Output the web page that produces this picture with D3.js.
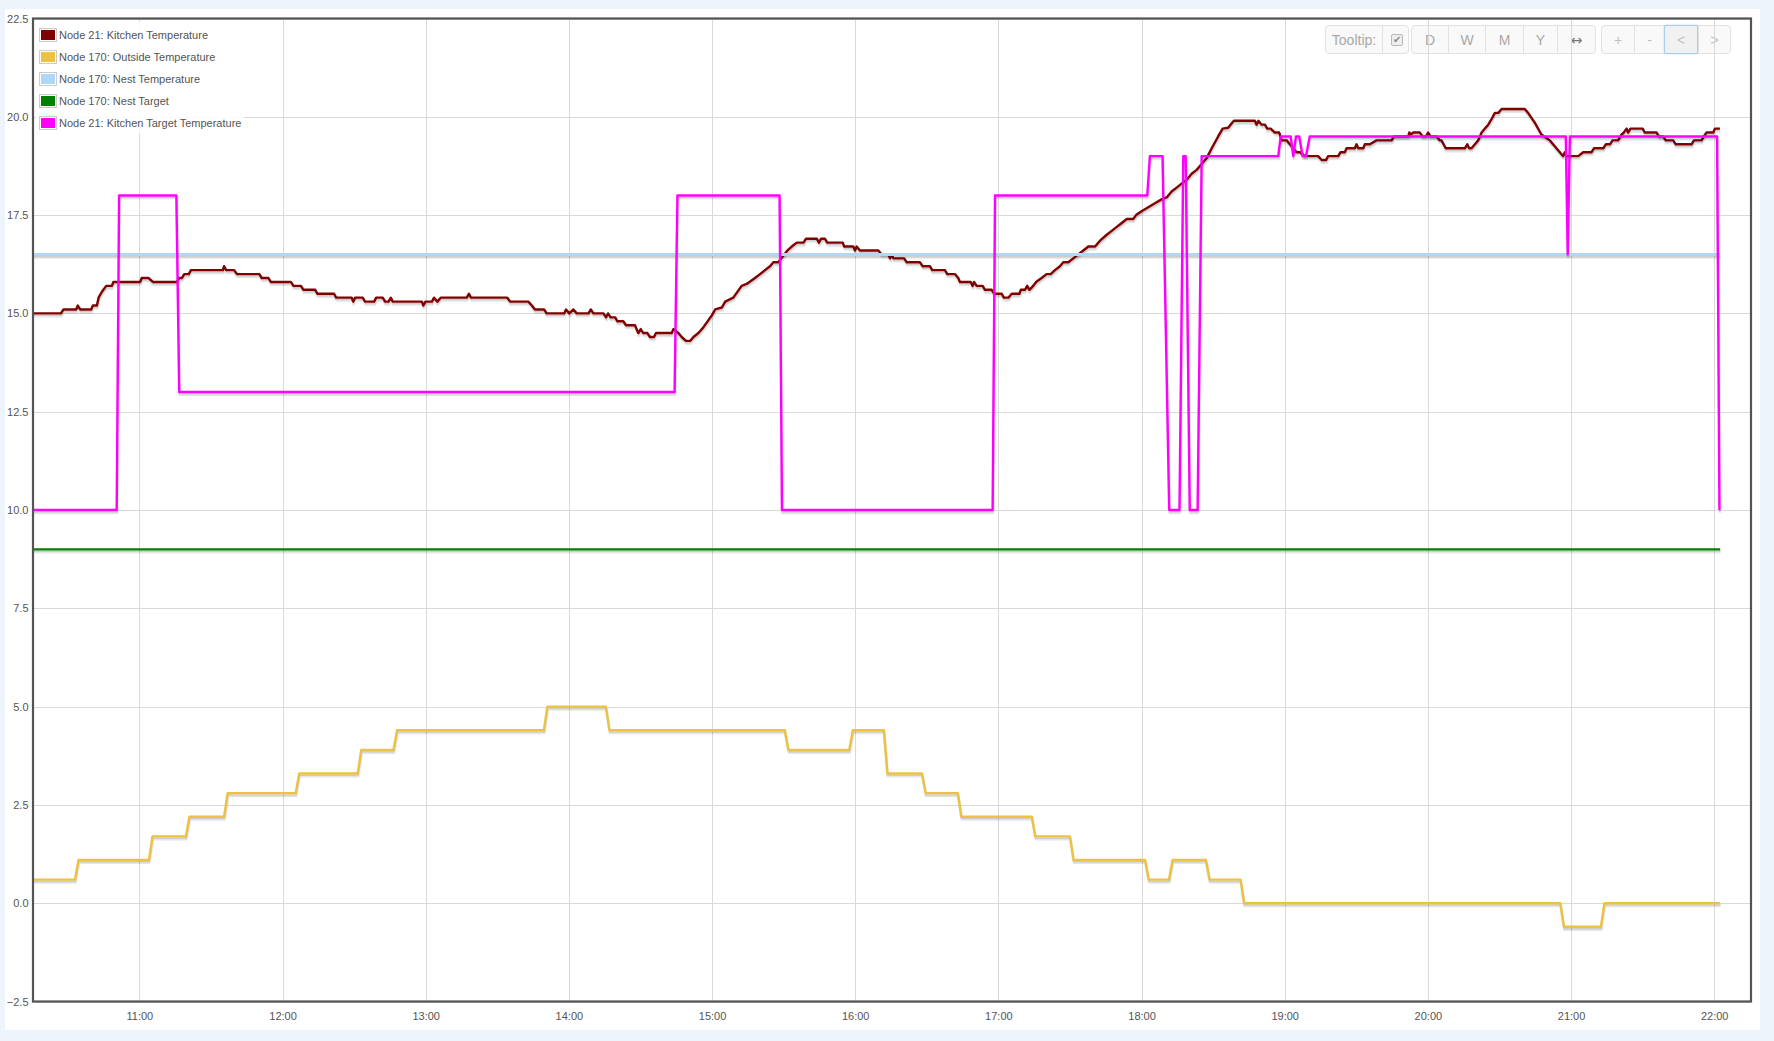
<!DOCTYPE html>
<html><head><meta charset="utf-8">
<script src="https://cdn.jsdelivr.net/npm/d3@7/dist/d3.min.js"></script>
<style>
html,body{margin:0;padding:0;background:#edf4fb;}
body{width:1774px;height:1041px;overflow:hidden;position:relative;font-family:"Liberation Sans",Arial,Helvetica,sans-serif;}
#panel{position:absolute;left:5px;top:9px;width:1755px;height:1021px;background:#fff;}
#toolbar{position:absolute;left:0;top:0;}
.grp{position:absolute;top:25px;height:27px;border:1px solid #e2e2e2;border-radius:4px;background:#f9f9f9;box-sizing:content-box;}
.btn{position:absolute;top:0;height:27px;line-height:28px;text-align:center;font-size:14px;color:#a8a8a8;border-left:1px solid #e2e2e2;box-sizing:border-box;}
.btn.first{border-left:none;}
.btn.focus{border:1px solid #a9cdf0;background:#f1f1f1;border-radius:2px;top:-1px;height:29px;line-height:28px;box-shadow:0 0 2px rgba(102,175,233,0.5);}
.cb{position:absolute;left:8px;top:8px;width:10px;height:10px;border:1px solid #b8b8b8;border-radius:2px;background:#eee;font-size:10px;line-height:10px;color:#888;text-align:center;}
svg{position:absolute;left:0;top:0;}
</style></head><body>
<div id="panel"></div>
<div id="toolbar"></div>
<svg id="chart" width="1774" height="1041"></svg>
<script>
// ---- data (time = minutes after 10:00) ----
const seriesNames = [
  "Node 21: Kitchen Temperature",
  "Node 170: Outside Temperature",
  "Node 170: Nest Temperature",
  "Node 170: Nest Target",
  "Node 21: Kitchen Target Temperature"
];
const seriesColors = ["#800000", "#edc240", "#afd8f8", "#008000", "#ff00ff"];
const seriesWidths = [2.4, 2.4, 3, 2.2, 2.4];

const kitchenTemp = [
 [15.4,15.0],[27.1,15.0],[28.2,15.1],[33.5,15.1],[34.2,15.2],[35.2,15.1],[39.8,15.1],[40.5,15.2],[42.2,15.2],[42.9,15.4],[44.3,15.55],[46.1,15.7],[48.5,15.7],[49.1,15.8],[60.3,15.8],[61,15.9],[63.8,15.9],[65.7,15.8],[75.7,15.8],[76.7,15.9],[77.8,15.9],[78.8,16.0],[80.7,16.0],[81.6,16.1],[95,16.1],[95.5,16.2],[96.4,16.1],[99.7,16.1],[100.9,16.0],[110.3,16.0],[111.3,15.9],[114.1,15.9],[115.1,15.8],[123.5,15.8],[124.6,15.7],[127.7,15.7],[128.8,15.6],[133.7,15.6],[134.6,15.5],[141.6,15.5],[142.5,15.4],[149,15.4],[149.6,15.3],[150.4,15.4],[153.6,15.4],[154.6,15.3],[156.7,15.3],
 [158.4,15.3],[159.2,15.4],[162,15.4],[163,15.3],[164.4,15.3],[165.4,15.4],[166.2,15.3],[178.4,15.3],[179,15.2],[179.9,15.3],[182.6,15.3],[183.5,15.4],[184.9,15.3],[186.3,15.4],[197.2,15.4],[198.1,15.5],[199,15.4],[214.2,15.4],[215.4,15.3],[223,15.3],[224.5,15.2],[225.8,15.1],[229.6,15.1],[230.7,15.0],[238,15.0],[238.8,15.1],[240.2,15.0],[241.9,15.1],[243.3,15.0],[248.2,15.0],[249.2,15.1],[250.3,15.0],[254.5,15.0],[255.6,14.9],[256.4,15.0],[257.5,14.9],[259.4,14.9],[260.3,14.8],[262.8,14.8],[264,14.7],[267.7,14.7],[269.1,14.5],[270.1,14.6],[271.2,14.5],[272.9,14.5],[274,14.4],[275.7,14.4],[276.5,14.5],[283.1,14.5],[283.8,14.6],[285.9,14.5],[287.3,14.4],[289.1,14.3],[290.8,14.3],[292.2,14.4],[294.3,14.5],[296.4,14.65],
 [299.9,14.95],[301.3,15.1],[304.1,15.15],[305.5,15.3],[308.9,15.4],[312.4,15.7],[314.5,15.75],[318,15.9],[320.1,16.0],[322.2,16.1],[324.3,16.2],[325.7,16.3],[327.8,16.3],[329.6,16.45],[331.6,16.6],[333.4,16.7],[335.5,16.8],[338.3,16.8],[339.4,16.9],[343.9,16.9],[344.8,16.8],[345.7,16.9],[347.3,16.9],[348.3,16.8],[354.8,16.8],[355.4,16.7],[359.2,16.7],[359.9,16.6],[360.6,16.7],[362,16.6],[369.7,16.6],[371.1,16.5],[373.9,16.5],[374.6,16.4],[375.3,16.5],[376,16.4],[380.5,16.4],[381.6,16.3],[387.1,16.3],[388.3,16.2],[391.3,16.2],[392.3,16.1],[397.6,16.1],[398.6,16.0],[401.8,16.0],[403.2,15.9],[403.9,15.8],[408.4,15.8],[409.2,15.7],[409.8,15.8],[410.9,15.7],[413.4,15.7],[414.4,15.6],[417.2,15.6],[418.2,15.5],[421.4,15.5],[422.3,15.4],[424.2,15.4],[425.6,15.5],[428.8,15.5],[429.4,15.6],[431.1,15.6],[432.1,15.7],[433,15.6],[434.6,15.7],[435.8,15.8],
 [438.1,15.9],[440.2,16.0],[441.9,16.0],[443.7,16.1],[445.8,16.2],[447.2,16.3],[449.3,16.3],[451.4,16.4],[453.5,16.5],[455.6,16.6],[457.7,16.7],[460.5,16.7],[462.6,16.85],[465.4,17.0],[467.5,17.1],[469.6,17.2],[471.7,17.3],[473.8,17.4],[476.5,17.4],[477.7,17.5],[480,17.6],[482.8,17.7],[485.6,17.8],[488.4,17.9],[490.5,17.95],[492.6,18.1],[494.7,18.2],[496.8,18.3],[498.9,18.4],[501,18.55],[503.1,18.65],[505.2,18.8],[507.3,18.95],[509.4,19.2],[512.1,19.5],[514,19.7],[516.3,19.72],[517.7,19.83],[518.7,19.9],[527.5,19.9],[528.2,19.8],[529,19.9],[530.3,19.8],[531.7,19.8],[532.7,19.7],[534.1,19.7],[535.9,19.6],[537.7,19.6],[538.7,19.4],[540.8,19.4],[543.6,19.2],[545,19.1],[546.4,19.1],[548.5,19.0],[554,19.0],[555.5,18.9],[557.3,18.9],[558.2,19.0],[562.4,19.0],[563.4,19.1],[565.2,19.1],[565.9,19.2],[569.4,19.2],[570.1,19.3],[570.8,19.2],[572.9,19.2],[573.6,19.3],
 [575.7,19.3],[578.5,19.4],[584.8,19.4],[585.8,19.5],[591.8,19.5],[592.2,19.6],[592.8,19.55],[593.9,19.6],[596.6,19.6],[597.8,19.5],[599.2,19.5],[600.1,19.6],[601.1,19.5],[603.6,19.5],[605,19.4],[605.7,19.4],[607.5,19.2],[615.5,19.2],[616.5,19.3],[617.3,19.2],[618.3,19.2],[619.7,19.3],[621.1,19.4],[622.5,19.6],[623.9,19.7],[625.3,19.8],[626.3,19.9],[628.1,20.1],[629.5,20.1],[630.9,20.2],[640.6,20.2],[642,20.1],[644.8,19.85],[647.6,19.55],[651.1,19.4],[653.9,19.2],[656,19.05],[656.7,19.0],[657.4,19.1],[658.1,19.0],[663,19.0],[665.1,19.1],[668.6,19.1],[669.6,19.2],[673.5,19.2],[674.6,19.3],[676.3,19.3],[677.4,19.4],[679.7,19.4],[681.2,19.55],[682.1,19.6],[683.3,19.7],[683.9,19.6],[684.9,19.7],[690,19.7],[690.9,19.6],[695.8,19.6],[696.9,19.5],[698.6,19.5],[699.7,19.4],[702.8,19.4],[703.9,19.3],[710.5,19.3],[711.5,19.4],[714.7,19.4],[715.6,19.5],[716.8,19.6],[719.6,19.6],[720.3,19.7],[722.4,19.7]
];

const outsideTemp = [
 [15.4,0.6],[33,0.6],[34.5,1.1],[64,1.1],[65.5,1.7],[79.5,1.7],[81,2.2],[95.5,2.2],[97,2.8],[125.5,2.8],[127,3.3],[151.5,3.3],[153,3.9],[166.5,3.9],[168,4.4],[229.5,4.4],[231,5.0],[255.5,5.0],[257,4.4],[330.5,4.4],[332,3.9],[357.5,3.9],[359,4.4],[372,4.4],[373.5,3.3],[388,3.3],[389.5,2.8],[403,2.8],[404.5,2.2],[434,2.2],[435.5,1.7],[450,1.7],[451.5,1.1],[481.5,1.1],[483,0.6],[491.5,0.6],[493,1.1],[507,1.1],[508.5,0.6],[521.5,0.6],[523,0.0],[655.5,0.0],[657,-0.6],[672.5,-0.6],[674,0.0],[722.5,0.0]
];

const nestTemp = [[15.4,16.5],[722.5,16.5]];
const nestTarget = [[15.4,9.0],[722.5,9.0]];

const kitchenTarget = [
 [15.4,10],[50.5,10],[51.5,18],[75.5,18],[76.7,13],[284.3,13],[285.5,18],[328.3,18],[329.3,10],[417.6,10],[418.6,18],[482.4,18],[483.5,19],[488.8,19],[491.6,10],[495.9,10],[497.5,19],[498.5,19],[500.2,10],[503.5,10],[505.2,19],[537.3,19],[538.3,19.5],[542.5,19.5],[543.6,19],[544.7,19.5],[546.1,19.5],[547.5,19],[548.9,19],[550.5,19.5],[657.8,19.5],[658.6,16.5],[659.5,19.5],[721.2,19.5],[722.2,10]
];

const yTickValues = [-2.5, 0, 2.5, 5, 7.5, 10, 12.5, 15, 17.5, 20, 22.5];
const xTickHours = [11, 12, 13, 14, 15, 16, 17, 18, 19, 20, 21, 22];
const xDomainMinutes = [15, 735];

const toolbarGroups = [
  ["Tooltip:", "✔"],
  ["D", "W", "M", "Y", "↔"],
  ["+", "-", "<", ">"]
];

// ---- layout ----
const L = 32, R = 1750, T = 18.5, B = 1001.5;
const base = new Date(2015, 0, 1, 10, 0, 0);
const tm = m => new Date(base.getTime() + m * 60000);

const x = d3.scaleTime().domain(xDomainMinutes.map(tm)).range([L, R]);
const y = d3.scaleLinear().domain([-2.5, 22.5]).range([B, T]);

const svg = d3.select("#chart");

// grid
const grid = svg.append("g");
grid.append("g").attr("transform", `translate(${L},0)`)
  .call(d3.axisLeft(y).tickValues(yTickValues).tickSize(-(R - L)).tickFormat(""))
  .call(g => g.select(".domain").remove())
  .call(g => g.selectAll("line").attr("stroke", "#d9d9d9").attr("stroke-width", 1).attr("shape-rendering", "crispEdges"));
grid.append("g").attr("transform", `translate(0,${B})`)
  .call(d3.axisBottom(x).tickValues(xTickHours.map(h => tm((h - 10) * 60))).tickSize(-(B - T)).tickFormat(""))
  .call(g => g.select(".domain").remove())
  .call(g => g.selectAll("line").attr("stroke", "#d9d9d9").attr("stroke-width", 1).attr("shape-rendering", "crispEdges"));

// series
const allSeries = [kitchenTemp, outsideTemp, nestTemp, nestTarget, kitchenTarget];
svg.append("defs").append("clipPath").attr("id", "clip")
  .append("rect").attr("x", L).attr("y", T).attr("width", R - L).attr("height", B - T);
const plot = svg.append("g").attr("clip-path", "url(#clip)");
const sw = 3, ang = Math.PI / 18;
allSeries.forEach((data, i) => {
  const lw = seriesWidths[i];
  const mk = (dx, dy) => d3.line().x(d => x(tm(d[0])) + dx).y(d => y(d[1]) + dy);
  const o1 = lw / 2 + sw / 2, o2 = lw / 2 + sw / 4;
  plot.append("path").attr("d", mk(Math.sin(ang) * o1, Math.cos(ang) * o1)(data))
    .attr("fill", "none").attr("stroke", "rgba(0,0,0,0.1)").attr("stroke-width", sw).attr("stroke-linejoin", "round");
  plot.append("path").attr("d", mk(Math.sin(ang) * o2, Math.cos(ang) * o2)(data))
    .attr("fill", "none").attr("stroke", "rgba(0,0,0,0.1)").attr("stroke-width", sw / 2).attr("stroke-linejoin", "round");
  plot.append("path").attr("d", mk(0, 0)(data))
    .attr("fill", "none").attr("stroke", seriesColors[i]).attr("stroke-width", lw).attr("stroke-linejoin", "round");
});

// border
svg.append("rect").attr("x", L + 1).attr("y", T).attr("width", R - L).attr("height", B - T)
  .attr("fill", "none").attr("stroke", "#545454").attr("stroke-width", 2.2);

// axis labels
svg.append("g").attr("transform", `translate(${L - 3.5},0)`)
  .call(d3.axisLeft(y).tickValues(yTickValues).tickSize(0).tickPadding(0).tickFormat(d3.format(".1f")))
  .call(g => g.select(".domain").remove())
  .call(g => g.selectAll("text").attr("fill", "#545454").attr("font-size", 11)
    .attr("font-family", "'Liberation Sans', Arial, sans-serif"));
svg.append("g").attr("transform", `translate(0,${B})`)
  .call(d3.axisBottom(x).tickValues(xTickHours.map(h => tm((h - 10) * 60))).tickSize(0).tickPadding(11).tickFormat(d3.timeFormat("%H:%M")))
  .call(g => g.select(".domain").remove())
  .call(g => g.selectAll("text").attr("fill", "#545454").attr("font-size", 11)
    .attr("font-family", "'Liberation Sans', Arial, sans-serif"));

// legend
const lg = svg.append("g");
lg.append("rect").attr("x", 36).attr("y", 22).attr("width", 208).attr("height", 112)
  .attr("fill", "#fff").attr("opacity", 0.85);
seriesNames.forEach((name, i) => {
  const yc = 35 + i * 22;
  lg.append("rect").attr("x", 39.5).attr("y", yc - 6.5).attr("width", 17).attr("height", 13)
    .attr("fill", "#fff").attr("stroke", "#cccccc").attr("stroke-width", 1);
  lg.append("rect").attr("x", 41).attr("y", yc - 5).attr("width", 14).attr("height", 10)
    .attr("fill", seriesColors[i]);
  lg.append("text").attr("x", 59).attr("y", yc).attr("dy", "0.35em")
    .attr("font-size", 11).attr("fill", "#545454")
    .attr("font-family", "'Liberation Sans', Arial, sans-serif").text(name);
});

// toolbar (HTML)
const groupBoxes = [
  {left: 1325, widths: [56, 26]},
  {left: 1411, widths: [36, 37, 38, 34, 38]},
  {left: 1601, widths: [32, 30, 34, 32]}
];
const tb = d3.select("#toolbar");
toolbarGroups.forEach((labels, gi) => {
  const gb = groupBoxes[gi];
  const total = d3.sum(gb.widths);
  const g = tb.append("div").attr("class", "grp")
    .style("left", gb.left + "px").style("width", total + "px");
  let off = 0;
  labels.forEach((lab, bi) => {
    const b = g.append("div").attr("class", "btn" + (bi === 0 ? " first" : "") + (gi === 2 && bi === 2 ? " focus" : ""))
      .style("left", off + "px").style("width", gb.widths[bi] + "px");
    if (gi === 0 && bi === 1) {
      b.append("div").attr("class", "cb").text(lab);
    } else {
      b.text(lab);
      if (gi === 2) b.style("color", "#c0c0c0");
      if (gi === 1 && bi === 4) b.style("color", "#777").style("font-size", "14px")
        .style("font-family", "'DejaVu Sans', sans-serif");
    }
    off += gb.widths[bi];
  });
});
</script>
</body></html>
